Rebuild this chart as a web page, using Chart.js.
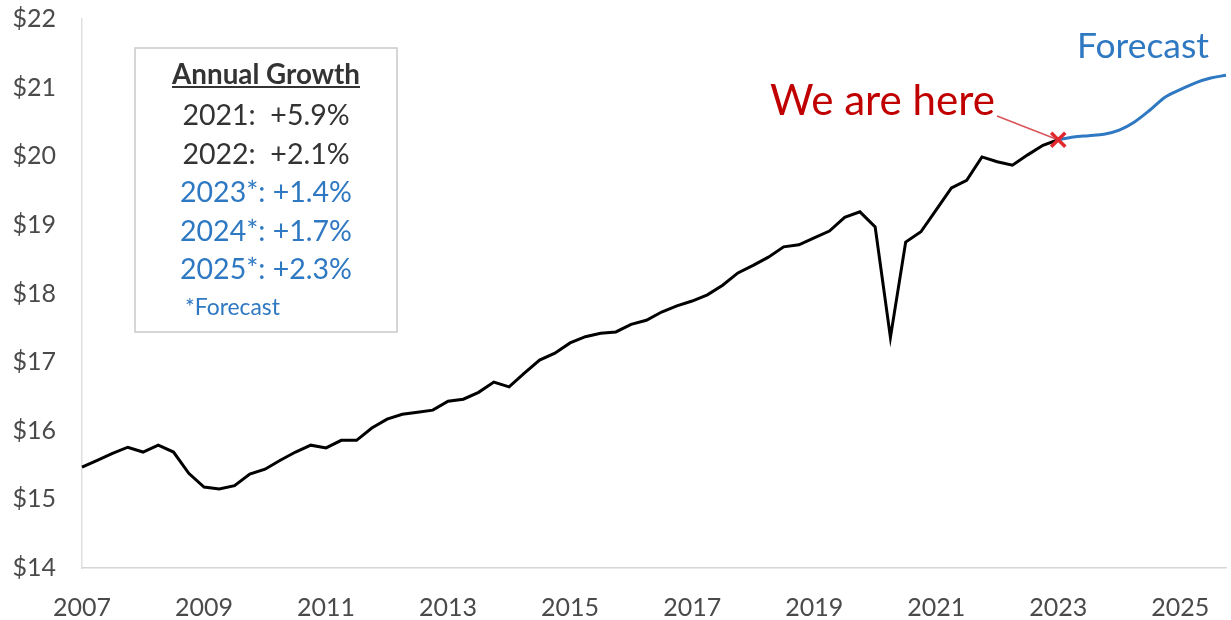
<!DOCTYPE html>
<html>
<head>
<meta charset="utf-8">
<script src="https://cdn.jsdelivr.net/npm/chart.js@4"></script>
<style>
  html, body { margin: 0; padding: 0; background: #fff; }
  #wrap { width: 1231px; height: 620px; }
</style>
</head>
<body>
<div id="wrap"><canvas id="chart" width="1231" height="620"></canvas></div>
<script>
// --- data (real GDP, trillions, quarterly 2007 Q1 .. 2025 Q4) ---
const years = [2007, 2008, 2009, 2010, 2011, 2012, 2013, 2014, 2015, 2016,
               2017, 2018, 2019, 2020, 2021, 2022, 2023, 2024, 2025];
const tickYears = ['2007', '2009', '2011', '2013', '2015', '2017', '2019', '2021', '2023', '2025'];

// actual, 2007 Q1 .. 2023 Q1
const actual = [
  15.47, 15.57, 15.67, 15.76,  15.69, 15.79, 15.69, 15.38,
  15.18, 15.15, 15.20, 15.37,  15.44, 15.57, 15.69, 15.79,
  15.75, 15.86, 15.86, 16.04,  16.17, 16.24, 16.27, 16.30,
  16.43, 16.46, 16.56, 16.71,  16.64, 16.84, 17.03, 17.13,
  17.28, 17.37, 17.42, 17.44,  17.55, 17.61, 17.73, 17.82,
  17.89, 17.98, 18.12, 18.30,  18.41, 18.53, 18.68, 18.71,
  18.81, 18.91, 19.11, 19.19,  18.97, 17.36, 18.75, 18.90,
  19.22, 19.54, 19.65, 19.99,  19.92, 19.87, 20.02, 20.16,
  20.24
];
// forecast, 2023 Q1 .. 2025 Q4
const forecast = [20.24, 20.28, 20.30, 20.32, 20.38, 20.50, 20.67, 20.86, 20.97, 21.07, 21.14, 21.18];

const growthRows = [
  { text: '2021:  +5.9%', forecast: false },
  { text: '2022:  +2.1%', forecast: false },
  { text: '2023*: +1.4%', forecast: true },
  { text: '2024*: +1.7%', forecast: true },
  { text: '2025*: +2.3%', forecast: true }
];

// --- build series ---
const labels = years.flatMap(y => [1, 2, 3, 4].map(q => `${y} Q${q}`));
const hereIndex = actual.length - 1;
const actualSeries = labels.map((_, i) => i < actual.length ? actual[i] : null);
const forecastSeries = labels.map((_, i) => i >= hereIndex ? forecast[i - hereIndex] : null);
const markerSeries = labels.map((_, i) => i === hereIndex ? actual[hereIndex] : null);

const FONT = 'Lato, "Open Sans", sans-serif';
const BLUE = '#2f78c2';
const RED = '#c00000';
const DARK = '#333333';

// size a font so the text gets the wanted width
function fitSize(ctx, text, weight, width) {
  ctx.font = `${weight} 100px ${FONT}`;
  return 100 * width / ctx.measureText(text).width;
}

const notes = {
  id: 'notes',
  afterDraw(chart) {
    const ctx = chart.ctx;
    ctx.save();

    // growth box
    ctx.strokeStyle = '#c9c9c9';
    ctx.lineWidth = 1.5;
    ctx.strokeRect(135, 48, 262, 284);
    ctx.textBaseline = 'middle';
    ctx.textAlign = 'center';

    let s = fitSize(ctx, 'Annual Growth', 'bold', 188);
    ctx.font = `bold ${s}px ${FONT}`;
    ctx.fillStyle = DARK;
    ctx.fillText('Annual Growth', 266, 75);
    ctx.fillRect(172, 86, 188, 2);

    s = fitSize(ctx, '2023*: +1.4%', 'normal', 172);
    ctx.font = `${s}px ${FONT}`;
    growthRows.forEach((r, i) => {
      ctx.fillStyle = r.forecast ? BLUE : DARK;
      ctx.fillText(r.text, 266, 116 + i * 38.5);
    });
    ctx.textAlign = 'left';
    s = fitSize(ctx, '*Forecast', 'normal', 95);
    ctx.font = `${s}px ${FONT}`;
    ctx.fillStyle = BLUE;
    ctx.fillText('*Forecast', 185, 308);

    // labels on the plot
    s = fitSize(ctx, 'Forecast', 'normal', 132);
    ctx.font = `${s}px ${FONT}`;
    ctx.fillStyle = BLUE;
    ctx.fillText('Forecast', 1077, 47);

    s = fitSize(ctx, 'We are here', 'normal', 225);
    ctx.font = `${s}px ${FONT}`;
    ctx.fillStyle = RED;
    ctx.fillText('We are here', 770, 101);

    const pt = chart.getDatasetMeta(2).data[hereIndex];
    ctx.strokeStyle = '#d9535a';
    ctx.lineWidth = 1.5;
    ctx.beginPath();
    ctx.moveTo(997, 116);
    ctx.lineTo(pt.x - 3, pt.y - 1);
    ctx.stroke();
    ctx.restore();
  }
};

new Chart(document.getElementById('chart'), {
  type: 'line',
  data: {
    labels,
    datasets: [
      {
        data: actualSeries,
        borderColor: '#000000',
        borderWidth: 3,
        pointRadius: 0,
        tension: 0,
        order: 2
      },
      {
        data: forecastSeries,
        borderColor: BLUE,
        borderWidth: 3,
        pointRadius: 0,
        tension: 0.4,
        cubicInterpolationMode: 'monotone',
        order: 1
      },
      {
        data: markerSeries,
        showLine: false,
        pointStyle: 'crossRot',
        pointRadius: 10,
        pointBorderWidth: 3.5,
        pointBorderColor: '#e0282e',
        borderColor: '#e0282e',
        order: 0
      }
    ]
  },
  options: {
    responsive: false,
    animation: false,
    layout: { autoPadding: false, padding: { top: 19, right: 5, left: 0, bottom: 0 } },
    plugins: { legend: { display: false }, tooltip: { enabled: false } },
    scales: {
      x: {
        offset: false,
        grid: { display: false, drawTicks: false },
        border: { display: true, color: '#d6d6d6', width: 1.5 },
        ticks: {
          autoSkip: false,
          maxRotation: 0,
          padding: 25,
          color: '#4a4a4a',
          font: { family: FONT, size: 25 },
          callback: (v, i) => {
            const [y, q] = labels[i].split(' ');
            return q === 'Q1' && tickYears.includes(y) ? y : '';
          }
        },
        // tick padding would otherwise push the plot in from the right
        afterFit: s => { s.height = 52; s.paddingLeft = 0; s.paddingRight = 0; }
      },
      y: {
        min: 14,
        max: 22,
        grid: { display: false, drawTicks: false },
        border: { display: true, color: '#e0e0e0', width: 1.5 },
        ticks: {
          stepSize: 1,
          padding: 26,
          color: '#4a4a4a',
          font: { family: FONT, size: 25 },
          callback: v => '$' + v
        },
        afterFit: s => { s.width = 82; s.paddingTop = 0; s.paddingBottom = 0; }
      }
    }
  },
  plugins: [notes]
});
</script>
</body>
</html>
